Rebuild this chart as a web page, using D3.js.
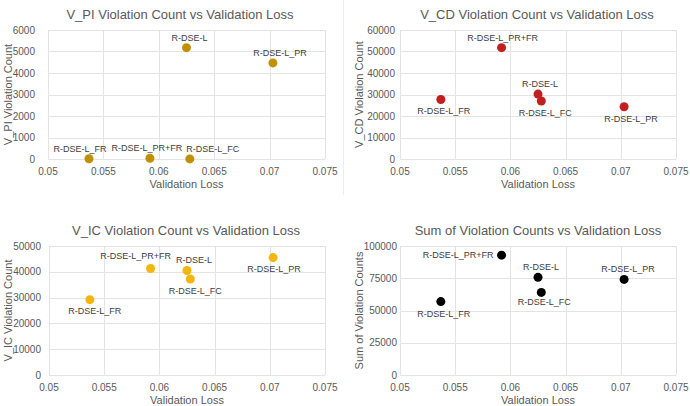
<!DOCTYPE html>
<html>
<head>
<meta charset="utf-8">
<script src="https://cdn.jsdelivr.net/npm/d3@7"></script>
<style>
  body { margin: 0; background: #fff; }
  svg { font-family: "Liberation Sans", Arial, sans-serif; }
</style>
</head>
<body>
<svg width="690" height="406"></svg>
<script>
// data
const models = ["R-DSE-L_FR", "R-DSE-L_PR+FR", "R-DSE-L", "R-DSE-L_FC", "R-DSE-L_PR"];
const valLoss = [0.0537, 0.0592, 0.0625, 0.0628, 0.0703];
const vPI = [12, 35, 5180, 5, 4470];
const vCD = [27700, 51800, 30200, 27000, 24300];
const vIC = [29200, 41300, 40500, 37200, 45500];
const vSum = [56900, 92900, 75700, 64000, 74100];
const xTicks = [0.05, 0.055, 0.06, 0.065, 0.07, 0.075];

const svg = d3.select("svg");

// one entry per panel
const panels = [
  { title: "V_PI Violation Count vs Validation Loss", yTitle: "V_PI Violation Count",
    values: vPI, yMax: 6000, yStep: 1000, color: "#BF9000",
    box: { left: 48, right: 325, top: 30, bottom: 159 }, titleX: 180, yTitleX: 8, tickGap: 13,
    // label offsets [dx, dy, anchor]
    labels: [[-9, -10, "middle"], [-3, -10, "middle"], [3, -10, "middle"], [23, -10, "middle"], [7, -10, "middle"]] },
  { title: "V_CD Violation Count vs Validation Loss", yTitle: "V_CD Violation Count",
    values: vCD, yMax: 60000, yStep: 10000, color: "#C0211F",
    box: { left: 400, right: 676, top: 30, bottom: 159 }, titleX: 537, yTitleX: 359, tickGap: 5,
    labels: [[3, 12, "middle"], [1, -10, "middle"], [2, -10, "middle"], [4, 12, "middle"], [7, 12, "middle"]] },
  { title: "V_IC Violation Count vs Validation Loss", yTitle: "V_IC Violation Count",
    values: vIC, yMax: 50000, yStep: 10000, color: "#F5B50F",
    box: { left: 49, right: 325, top: 246, bottom: 375 }, titleX: 186, yTitleX: 8, tickGap: 8,
    labels: [[5, 11, "middle"], [-15, -12, "middle"], [7, -11, "middle"], [5, 12, "middle"], [1, 11, "middle"]] },
  { title: "Sum of Violation Counts vs Validation Loss", yTitle: "Sum of Violation Counts",
    values: vSum, yMax: 100000, yStep: 25000, color: "#000000",
    box: { left: 400, right: 676, top: 246, bottom: 375 }, titleX: 538, yTitleX: 359, tickGap: 3,
    labels: [[-8, 0, "end"], [3, -10, "middle"], [3, -10, "middle"], [3, 10, "middle"], [4, -10, "middle"]] }
];
// label order above matches models order except panel 4 (FR, PR+FR, L, FC, PR)
panels[3].labels = [[3, 12, "middle"], [-8, 0, "end"], [3, -10, "middle"], [3, 10, "middle"], [4, -10, "middle"]];

// faint chart border between the top panels
svg.append("line")
  .attr("x1", 343.5).attr("x2", 343.5).attr("y1", 0).attr("y2", 195)
  .attr("stroke", "#ececec");

panels.forEach((p) => {
  const x = d3.scaleLinear().domain([0.05, 0.075]).range([p.box.left, p.box.right]);
  const y = d3.scaleLinear().domain([0, p.yMax]).range([p.box.bottom, p.box.top]);
  const yTicks = d3.range(0, p.yMax + 1, p.yStep);
  const g = svg.append("g");

  // gridlines
  g.append("g").selectAll("line").data(yTicks).enter().append("line")
    .attr("x1", p.box.left).attr("x2", p.box.right)
    .attr("y1", (d) => Math.round(y(d)) + 0.5).attr("y2", (d) => Math.round(y(d)) + 0.5)
    .attr("stroke", "#e3e3e3");
  g.append("g").selectAll("line").data(xTicks).enter().append("line")
    .attr("y1", p.box.top).attr("y2", p.box.bottom)
    .attr("x1", (d) => Math.round(x(d)) + 0.5).attr("x2", (d) => Math.round(x(d)) + 0.5)
    .attr("stroke", "#e3e3e3");

  // tick labels
  g.append("g").selectAll("text").data(yTicks).enter().append("text")
    .attr("x", p.box.left - p.tickGap).attr("y", (d) => y(d))
    .attr("text-anchor", "end").attr("dominant-baseline", "central")
    .style("font-size", "10px").style("fill", "#595959")
    .text((d) => d);
  g.append("g").selectAll("text").data(xTicks).enter().append("text")
    .attr("x", (d) => x(d)).attr("y", p.box.bottom + 12)
    .attr("text-anchor", "middle").attr("dominant-baseline", "central")
    .style("font-size", "10px").style("fill", "#595959")
    .text((d) => d3.format("~g")(d));

  // titles
  g.append("text")
    .attr("x", p.titleX).attr("y", p.box.top - 16)
    .attr("text-anchor", "middle").attr("dominant-baseline", "central")
    .style("font-size", "13px").style("fill", "#595959")
    .text(p.title);
  g.append("text")
    .attr("x", (p.box.left + p.box.right) / 2).attr("y", p.box.bottom + 25)
    .attr("text-anchor", "middle").attr("dominant-baseline", "central")
    .style("font-size", "11px").style("fill", "#595959")
    .text("Validation Loss");
  g.append("text")
    .attr("transform", `translate(${p.yTitleX},${(p.box.top + p.box.bottom) / 2}) rotate(-90)`)
    .attr("text-anchor", "middle").attr("dominant-baseline", "central")
    .style("font-size", "11px").style("fill", "#595959")
    .text(p.yTitle);

  // points
  g.append("g").selectAll("circle").data(models).enter().append("circle")
    .attr("cx", (d, i) => x(valLoss[i])).attr("cy", (d, i) => y(p.values[i]))
    .attr("r", 4.5).attr("fill", p.color);

  // data labels
  g.append("g").selectAll("text").data(models).enter().append("text")
    .attr("x", (d, i) => x(valLoss[i]) + p.labels[i][0])
    .attr("y", (d, i) => y(p.values[i]) + p.labels[i][1])
    .attr("text-anchor", (d, i) => p.labels[i][2]).attr("dominant-baseline", "central")
    .style("font-size", "9px").style("fill", "#404040")
    .text((d) => d);
});
</script>
</body>
</html>
